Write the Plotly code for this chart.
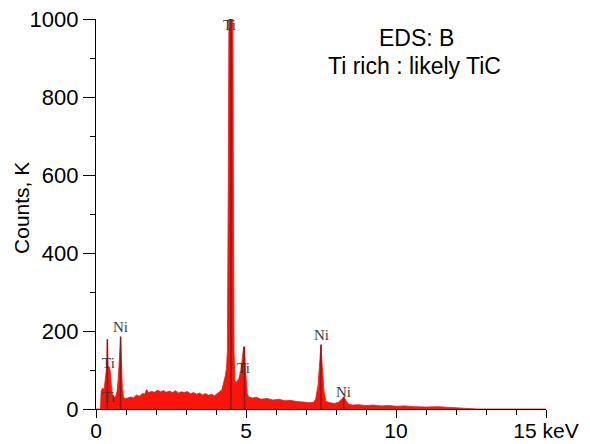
import plotly.graph_objects as go

# Spectrum (keV, counts)
energy = [0.00, 0.15, 0.17, 0.22, 0.27, 0.31, 0.34, 0.36, 0.38, 0.40, 0.44, 0.47, 0.50, 0.54, 0.58,
          0.62, 0.66, 0.70, 0.74, 0.78, 0.82, 0.85, 0.88, 0.92, 0.98, 1.05, 1.15, 1.25, 1.35, 1.45,
          1.55, 1.62, 1.69, 1.75, 1.85, 1.95, 2.05, 2.15, 2.25, 2.35, 2.45, 2.55, 2.65, 2.75, 2.85,
          2.95, 3.05, 3.15, 3.25, 3.35, 3.45, 3.55, 3.65, 3.75, 3.85, 3.95, 4.05, 4.12, 4.20, 4.27,
          4.31, 4.35, 4.38, 4.41, 4.43, 4.56, 4.58, 4.60, 4.63, 4.70, 4.76, 4.82, 4.87, 4.92, 4.96,
          5.00, 5.04, 5.08, 5.20, 5.35, 5.50, 5.70, 5.90, 6.10, 6.30, 6.50, 6.70, 6.90, 7.10, 7.25,
          7.32, 7.40, 7.46, 7.50, 7.54, 7.60, 7.66, 7.80, 7.95, 8.08, 8.18, 8.26, 8.33, 8.42, 8.55,
          8.75, 9.00, 9.25, 9.50, 9.75, 10.0, 10.3, 10.6, 11.0, 11.4, 11.8, 12.2, 12.5, 12.7, 15.0]
counts = [0, 0, 45, 54, 50, 85, 105, 112, 175, 110, 108, 100, 70, 40, 32,
          30, 34, 45, 75, 130, 184, 120, 50, 29, 27, 28, 31, 29, 36, 33,
          40, 38, 50, 42, 45, 43, 48, 44, 47, 43, 46, 42, 47, 41, 44,
          42, 45, 39, 42, 38, 41, 36, 40, 35, 38, 34, 39, 44, 50, 70,
          85, 105, 150, 600, 1000, 1000, 600, 150, 68, 70, 78, 95, 125, 160, 130,
          70, 40, 32, 28, 30, 25, 27, 23, 25, 21, 22, 19, 18, 16, 17,
          25, 60, 125, 165, 110, 45, 20, 16, 14, 17, 25, 31, 22, 12, 10,
          11, 9, 10, 8, 9, 7, 8, 6, 5, 6, 4, 3, 2, 0, 0]

# Peak marker lines
line_energy = [0.38, 0.82, 4.50, 4.95, 7.50, 8.26]
line_height = [179, 186, 1000, 160, 165, 31]

# Peak labels
label_text = ["Ti", "Ti", "Ni", "Ti", "Ti", "Ni", "Ni"]
label_x = [0.41, 0.41, 0.80, 4.45, 4.92, 7.50, 8.26]
label_y = [118, 32, 210, 985, 105, 190, 43]

x_tickvals = [0, 5, 10, 15]
x_ticktext = ["0", "5", "10", "15 keV"]
y_tickvals = [0, 200, 400, 600, 800, 1000]

fig = go.Figure()
fig.add_trace(go.Scatter(x=energy, y=counts, mode="lines", fill="tozeroy",
                         line=dict(color="rgb(250,20,10)", width=0.8),
                         fillcolor="rgb(250,20,10)", hoverinfo="skip"))

lx, ly = [], []
for e, h in zip(line_energy, line_height):
    lx += [e, e, None]
    ly += [0, h, None]
fig.add_trace(go.Scatter(x=lx, y=ly, mode="lines",
                         line=dict(color="rgb(140,25,25)", width=1.5), hoverinfo="skip"))

for t, x, y in zip(label_text, label_x, label_y):
    fig.add_annotation(x=x, y=y, text=t, showarrow=False,
                       font=dict(family="Liberation Serif", size=15, color="#3a3a3a"))

fig.add_annotation(x=10.68, y=951, text="EDS: B", showarrow=False,
                   font=dict(family="Liberation Sans", size=23, color="black"))
fig.add_annotation(x=10.6, y=880, text="Ti rich : likely TiC", showarrow=False,
                   font=dict(family="Liberation Sans", size=23, color="black"))
fig.add_annotation(x=-0.164, y=0.516, xref="paper", yref="paper", text="Counts, K",
                   textangle=-90, showarrow=False, xanchor="center", yanchor="middle",
                   font=dict(family="Liberation Sans", size=21, color="black"))

fig.update_layout(
    width=582, height=436,
    margin=dict(l=88, r=44, t=11, b=35),
    paper_bgcolor="white", plot_bgcolor="white",
    showlegend=False,
    font=dict(family="Liberation Sans", size=22, color="black"),
    xaxis=dict(range=[0, 15], tickvals=x_tickvals, ticktext=x_ticktext, automargin=False,
               ticklabeloverflow="allow", ticklabelstandoff=-5,
               tickfont=dict(size=21),
               ticks="outside", ticklen=8, tickwidth=1.3, tickcolor="black",
               showline=True, linecolor="black", linewidth=1.3,
               showgrid=False, zeroline=False,
               minor=dict(dtick=1, ticks="outside", ticklen=5, tickcolor="black", tickwidth=1.3)),
    yaxis=dict(range=[0, 1000], tickvals=y_tickvals, automargin=False,
               ticklabeloverflow="allow",
               ticks="outside", ticklen=12, tickwidth=1.3, tickcolor="black",
               showline=True, linecolor="black", linewidth=1.3,
               showgrid=False, zeroline=False,
               minor=dict(dtick=100, ticks="outside", ticklen=5, tickcolor="black", tickwidth=1.3)),
)

fig.write_html("out.html")
